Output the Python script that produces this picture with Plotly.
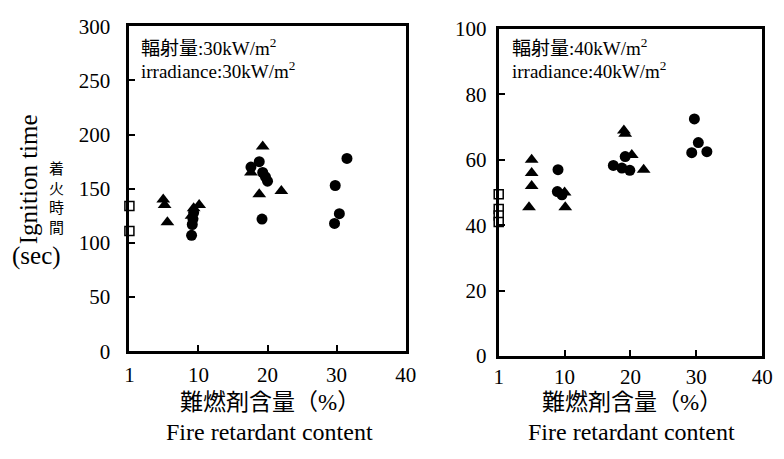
import plotly.graph_objects as go

# ---- data ----
tick_vals = [0, 10, 20, 30, 40]
tick_text = ["1", "10", "20", "30", "40"]

left_sq_x = [0, 0]
left_sq_y = [134, 111]
left_tri_x = [4.9, 5.1, 5.5, 9.3, 10.1, 9.0, 19.3, 17.6, 18.8, 22.0]
left_tri_y = [140, 135, 119, 132, 135, 125, 189, 165, 145, 148]
left_cir_x = [9.0, 9.1, 9.2, 9.3, 18.8, 17.6, 19.3, 19.7, 20.0, 19.2, 31.5, 29.8, 30.4, 29.7]
left_cir_y = [107, 117, 122, 128, 175, 170, 165, 161, 157, 122, 178, 153, 127, 118]

right_sq_x = [0, 0, 0, 0]
right_sq_y = [49.5, 45, 43, 41]
right_tri_x = [5.0, 5.0, 5.0, 4.6, 10.1, 10.0, 19.0, 19.2, 20.2, 22.0]
right_tri_y = [60, 56, 52, 45.5, 45.5, 50, 69, 68, 61.5, 57]
right_cir_x = [9.0, 8.9, 9.6, 19.2, 17.4, 18.7, 19.9, 29.7, 30.3, 29.3, 31.6]
right_cir_y = [57, 50.3, 49.3, 61, 58.3, 57.5, 56.8, 72.5, 65.3, 62.2, 62.5]

FONT = "Liberation Serif, Times New Roman, Noto Sans CJK JP, serif"

fig = go.Figure()

def add_series(xa, ya, sx, sy, tx, ty, cx, cy):
    fig.add_trace(go.Scatter(x=tx, y=ty, mode="markers", xaxis=xa, yaxis=ya,
                             marker=dict(symbol="triangle-up", size=12, color="black",
                                         line=dict(width=0)), cliponaxis=False))
    fig.add_trace(go.Scatter(x=cx, y=cy, mode="markers", xaxis=xa, yaxis=ya,
                             marker=dict(symbol="circle", size=11, color="black",
                                         line=dict(width=0)), cliponaxis=False))
    fig.add_trace(go.Scatter(x=sx, y=sy, mode="markers", xaxis=xa, yaxis=ya,
                             marker=dict(symbol="square", size=9, color="white",
                                         line=dict(width=1.5, color="black")), cliponaxis=False))

add_series("x", "y", left_sq_x, left_sq_y, left_tri_x, left_tri_y, left_cir_x, left_cir_y)
add_series("x2", "y2", right_sq_x, right_sq_y, right_tri_x, right_tri_y, right_cir_x, right_cir_y)

axis_common = dict(showgrid=False, zeroline=False, showline=True, linecolor="black",
                   linewidth=3, mirror=True, ticks="inside", ticklen=6, tickwidth=2,
                   tickcolor="black", tickfont=dict(family=FONT, size=21, color="black"))

W, H = 784, 459
def dom(a, b, total):
    return [a / total, b / total]

fig.update_layout(
    width=W, height=H, margin=dict(l=0, r=0, t=0, b=0),
    paper_bgcolor="white", plot_bgcolor="white", showlegend=False,
    xaxis=dict(domain=dom(127, 409, W), range=[0, 40], anchor="y",
               tickvals=tick_vals, ticktext=tick_text, ticklabelstandoff=3, **axis_common),
    yaxis=dict(domain=[1 - 358 / H, 1 - 15 / H], range=[0, 300], anchor="x",
               tickvals=[0, 50, 100, 150, 200, 250, 300], ticklabelstandoff=12, **axis_common),
    xaxis2=dict(domain=dom(504, 773, W), range=[0, 40], anchor="y2",
                tickvals=tick_vals, ticktext=tick_text, ticklabelstandoff=0, **axis_common),
    yaxis2=dict(domain=[1 - 363 / H, 1 - 18 / H], range=[0, 100], anchor="x2",
                tickvals=[0, 20, 40, 60, 80, 100], ticklabelstandoff=5, **axis_common),
)

def ann(text, x, y, size, xanchor="center", angle=0):
    fig.add_annotation(text=text, x=x / W, y=1 - y / H, xref="paper", yref="paper",
                       xanchor=xanchor, yanchor="middle", showarrow=False, textangle=angle,
                       font=dict(family=FONT, size=size, color="black"))

# inside-plot labels
ann("輻射量:30kW/m<sup>2</sup>", 137, 37, 19, xanchor="left")
ann("irradiance:30kW/m<sup>2</sup>", 137, 61, 19, xanchor="left")
ann("輻射量:40kW/m<sup>2</sup>", 516, 37, 19, xanchor="left")
ann("irradiance:40kW/m<sup>2</sup>", 516, 61, 19, xanchor="left")

# y-axis title (left)
ann("Ignition time", 24, 177, 25, angle=-90)
ann("着<br>火<br>時<br>間", 53, 197, 15)
ann("(sec)", 32, 257, 25)

# x-axis titles
ann("難燃剤含量（%）", 271, 412, 23)
ann("Fire retardant content", 270, 443, 24)
ann("難燃剤含量（%）", 640, 412, 23)
ann("Fire retardant content", 640, 443, 24)

fig.write_html("out.html")
